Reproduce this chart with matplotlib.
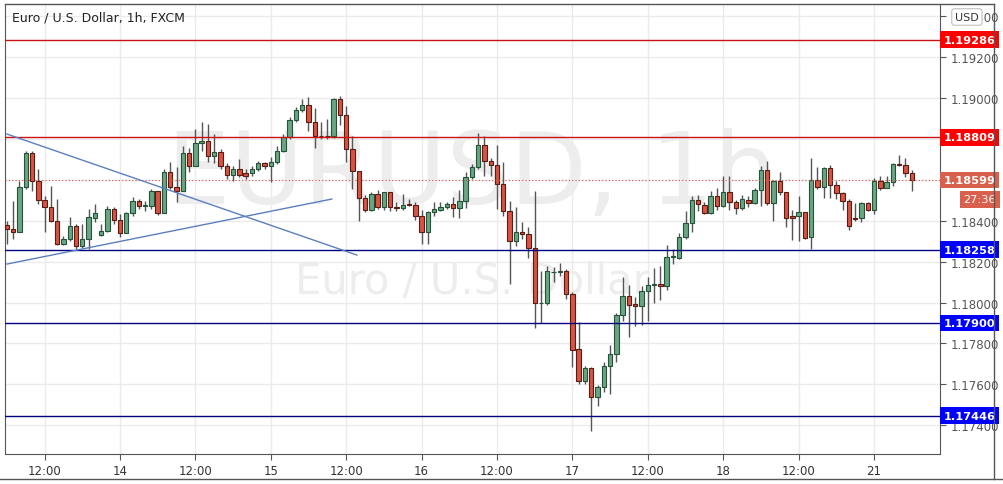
import matplotlib
matplotlib.use("Agg")
import matplotlib.pyplot as plt
from matplotlib.patches import Rectangle

opens = [1.18379,1.18359,1.18343,1.18563,1.18731,1.18593,1.18503,1.18465,1.18400,1.18286,
1.18311,1.18376,1.18278,1.18311,1.18415,1.18332,1.18348,1.18457,1.18405,1.18340,
1.18436,1.18495,1.18474,1.18474,1.18544,1.18436,1.18636,1.18563,1.18547,1.18731,
1.18666,1.18778,1.18788,1.18715,1.18734,1.18666,1.18623,1.18653,1.18633,1.18633,
1.18653,1.18682,1.18669,1.18689,1.18742,1.18808,1.18892,1.18941,1.18967,1.18881,
1.18816,1.18816,1.18813,1.18995,1.18917,1.18751,1.18641,1.18509,1.18454,1.18531,
1.18465,1.18539,1.18467,1.18460,1.18482,1.18477,1.18421,1.18343,1.18441,1.18454,
1.18465,1.18482,1.18460,1.18498,1.18612,1.18661,1.18770,1.18690,1.18674,1.18579,
1.18449,1.18302,1.18343,1.18333,1.18269,1.17996,1.17996,1.18149,1.18147,1.18155,
1.18044,1.17772,1.17617,1.17678,1.17536,1.17585,1.17691,1.17746,1.17938,1.18033,
1.17992,1.17981,1.18054,1.18087,1.18090,1.18079,1.18224,1.18220,1.18318,1.18387,
1.18502,1.18479,1.18438,1.18523,1.18471,1.18539,1.18490,1.18463,1.18503,1.18485,
1.18552,1.18650,1.18485,1.18593,1.18539,1.18422,1.18422,1.18441,1.18319,1.18601,
1.18564,1.18657,1.18577,1.18534,1.18498,1.18412,1.18412,1.18485,1.18454,1.18593,
1.18562,1.18588,1.18676,1.18671,1.18632]
closes = [1.18359,1.18343,1.18563,1.18731,1.18593,1.18503,1.18465,1.18400,1.18286,1.18311,
1.18376,1.18278,1.18311,1.18416,1.18436,1.18348,1.18457,1.18405,1.18340,1.18436,
1.18495,1.18470,1.18477,1.18544,1.18436,1.18636,1.18563,1.18547,1.18731,1.18666,
1.18778,1.18788,1.18715,1.18734,1.18666,1.18623,1.18653,1.18623,1.18620,1.18653,
1.18682,1.18669,1.18689,1.18742,1.18808,1.18892,1.18941,1.18967,1.18881,1.18813,
1.18813,1.18813,1.18995,1.18917,1.18751,1.18641,1.18509,1.18454,1.18531,1.18465,
1.18539,1.18465,1.18460,1.18477,1.18477,1.18421,1.18343,1.18441,1.18457,1.18467,
1.18482,1.18460,1.18498,1.18612,1.18661,1.18770,1.18690,1.18674,1.18579,1.18449,
1.18302,1.18343,1.18333,1.18269,1.17996,1.17996,1.18152,1.18149,1.18155,1.18044,
1.17769,1.17617,1.17678,1.17536,1.17588,1.17691,1.17746,1.17938,1.18033,1.17989,
1.17981,1.18054,1.18085,1.18087,1.18079,1.18224,1.18224,1.18318,1.18387,1.18502,
1.18481,1.18438,1.18523,1.18471,1.18539,1.18490,1.18463,1.18507,1.18485,1.18552,
1.18650,1.18485,1.18593,1.18539,1.18412,1.18412,1.18441,1.18316,1.18601,1.18564,
1.18657,1.18577,1.18534,1.18498,1.18373,1.18406,1.18485,1.18454,1.18593,1.18562,
1.18588,1.18676,1.18671,1.18632,1.18599]
highs = [1.18400,1.18498,1.18596,1.18742,1.18742,1.18653,1.18522,1.18571,1.18506,1.18327,
1.18416,1.18384,1.18384,1.18457,1.18482,1.18384,1.18474,1.18465,1.18433,1.18441,
1.18514,1.18506,1.18498,1.18555,1.18547,1.18653,1.18685,1.18661,1.18767,1.18754,
1.18848,1.18881,1.18873,1.18824,1.18751,1.18682,1.18666,1.18702,1.18653,1.18669,
1.18694,1.18689,1.18710,1.18767,1.18824,1.18905,1.18954,1.18995,1.19003,1.18949,
1.18881,1.18897,1.18998,1.19011,1.18962,1.18816,1.18645,1.18526,1.18539,1.18550,
1.18542,1.18542,1.18490,1.18531,1.18506,1.18490,1.18454,1.18449,1.18490,1.18490,
1.18490,1.18517,1.18550,1.18636,1.18677,1.18828,1.18812,1.18709,1.18770,1.18685,
1.18498,1.18465,1.18392,1.18367,1.18546,1.18155,1.18180,1.18176,1.18191,1.18163,
1.18049,1.17906,1.17691,1.17683,1.17596,1.17707,1.17792,1.17951,1.18126,1.18085,
1.18025,1.18082,1.18123,1.18167,1.18180,1.18281,1.18261,1.18339,1.18449,1.18522,
1.18525,1.18490,1.18547,1.18559,1.18617,1.18617,1.18503,1.18526,1.18523,1.18559,
1.18670,1.18694,1.18601,1.18637,1.18542,1.18454,1.18520,1.18445,1.18707,1.18661,
1.18661,1.18673,1.18596,1.18539,1.18507,1.18485,1.18490,1.18494,1.18609,1.18617,
1.18621,1.18683,1.18723,1.18705,1.18650]
lows = [1.18286,1.18311,1.18343,1.18555,1.18547,1.18482,1.18343,1.18395,1.18281,1.18281,
1.18302,1.18262,1.18265,1.18262,1.18392,1.18327,1.18343,1.18384,1.18319,1.18340,
1.18425,1.18457,1.18449,1.18457,1.18428,1.18436,1.18555,1.18493,1.18547,1.18636,
1.18666,1.18742,1.18685,1.18682,1.18653,1.18604,1.18596,1.18612,1.18604,1.18617,
1.18645,1.18653,1.18588,1.18677,1.18734,1.18799,1.18881,1.18933,1.18840,1.18754,
1.18799,1.18799,1.18803,1.18868,1.18685,1.18555,1.18397,1.18444,1.18449,1.18457,
1.18454,1.18449,1.18449,1.18454,1.18470,1.18405,1.18286,1.18286,1.18425,1.18449,
1.18457,1.18416,1.18412,1.18464,1.18604,1.18652,1.18620,1.18620,1.18457,1.18424,
1.18090,1.18277,1.18310,1.18216,1.17875,1.17899,1.17989,1.18098,1.18131,1.18017,
1.17686,1.17601,1.17599,1.17373,1.17495,1.17560,1.17552,1.17707,1.17911,1.17829,
1.17886,1.17891,1.17911,1.18000,1.18012,1.18062,1.18188,1.18212,1.18310,1.18343,
1.18449,1.18432,1.18433,1.18450,1.18466,1.18454,1.18433,1.18454,1.18466,1.18481,
1.18474,1.18477,1.18401,1.18526,1.18368,1.18308,1.18303,1.18311,1.18262,1.18556,
1.18510,1.18511,1.18507,1.18454,1.18357,1.18401,1.18396,1.18448,1.18433,1.18552,
1.18559,1.18572,1.18666,1.18613,1.18547]

tick_pos = [6, 18, 30, 42, 54, 66, 78, 90, 102, 114, 126, 138]
tick_labels = ["12:00", "14", "12:00", "15", "12:00", "16", "12:00", "17", "12:00", "18", "12:00", "21"]
y_ticks = [1.174, 1.176, 1.178, 1.180, 1.182, 1.184, 1.186, 1.188, 1.190, 1.192, 1.194]
red_levels = [1.19286, 1.18809]
blue_levels = [1.18258, 1.17900, 1.17446]
last_price = 1.18599
countdown = "27:36"
line1 = ([0, 55.7], [1.18824, 1.18232])
line2 = ([0, 51.7], [1.18188, 1.18506])

W, H = 1004, 485
fig = plt.figure(figsize=(W/100, H/100), dpi=100)
ax = fig.add_axes([5/W, 30/H, 935/W, 450/H])
ymin, ymax = 1.17259, 1.19460
ax.set_xlim(-0.3, 148.5)
ax.set_ylim(ymin, ymax)

for t in tick_pos:
    ax.axvline(t, color="#ebebeb", lw=1, zorder=0)
for t in y_ticks:
    ax.axhline(t, color="#ebebeb", lw=1, zorder=0)

ax.text(0.5, 0.62, "EURUSD, 1h", transform=ax.transAxes, fontsize=72, color="#ededed",
        ha="center", va="center", zorder=0.5, family="DejaVu Sans")
ax.text(0.5, 0.385, "Euro / U.S. Dollar", transform=ax.transAxes, fontsize=30, color="#ededed",
        ha="center", va="center", zorder=0.5, family="DejaVu Sans")

up_fill, dn_fill = "#6ba583", "#d75442"
up_edge, dn_edge = "#225437", "#5b1a13"
bw = 0.7
for i, (o, c, h, l) in enumerate(zip(opens, closes, highs, lows)):
    up = c >= o
    ax.vlines(i, l, h, color="#555555", lw=1, zorder=2)
    bottom = min(o, c)
    height = max(abs(c - o), 0.00002)
    ax.add_patch(Rectangle((i - bw/2, bottom), bw, height,
                           facecolor=up_fill if up else dn_fill,
                           edgecolor=up_edge if up else dn_edge, lw=0.8, zorder=3))

for lv in red_levels:
    ax.axhline(lv, color="#cc1111", lw=1, zorder=4)
for lv in blue_levels:
    ax.axhline(lv, color="#000080", lw=1, zorder=4)
ax.axhline(last_price, color="#d75442", lw=0.8, ls=(0, (1, 2)), zorder=4)

ax.plot(line1[0], line1[1], color="#5b7fc0", lw=1, zorder=5)
ax.plot(line2[0], line2[1], color="#5b7fc0", lw=1, zorder=5)

ax.set_xticks(tick_pos)
ax.set_xticklabels(tick_labels)
ax.yaxis.tick_right()
ax.set_yticks(y_ticks)
ax.set_yticklabels([f"{v:.5f}" for v in y_ticks])
ax.tick_params(axis="both", colors="#555555", labelsize=8.5, length=4)
ax.tick_params(axis="x", labelcolor="#333333")
ax.spines["top"].set_visible(False)
for s in ["left", "right", "bottom"]:
    ax.spines[s].set_color("#555555")

def label(y, text, bg, dy=0):
    ax.annotate(text, xy=(1, y), xycoords=("axes fraction", "data"),
                xytext=(2.5, dy), textcoords="offset points", ha="left", va="center",
                fontsize=8.2, fontweight="bold", color="white", zorder=10,
                bbox=dict(boxstyle="square,pad=0.3", fc=bg, ec="none"), annotation_clip=False)

for lv in red_levels:
    label(lv, f"{lv:.5f}", "#ff0000")
for lv in blue_levels:
    label(lv, f"{lv:.5f}", "#0000ff")
label(last_price, f"{last_price:.5f}", "#d9604d")
ax.annotate(countdown, xy=(1, last_price), xycoords=("axes fraction", "data"),
            xytext=(17, -14), textcoords="offset points", ha="left", va="center",
            fontsize=8.2, color="white", zorder=10,
            bbox=dict(boxstyle="square,pad=0.3", fc="#d9604d", ec="none"), annotation_clip=False)

fig.text(955/W, 1 - 18/H, "USD", fontsize=8, color="#333333", ha="left", va="center", zorder=20,
         bbox=dict(boxstyle="round,pad=0.3", fc="white", ec="#cccccc"))
fig.text(12/W, 1 - 18/H, "Euro / U.S. Dollar, 1h, FXCM", fontsize=9, color="#222222",
         ha="left", va="center")
fig.add_artist(plt.Line2D([0, 1], [5/H, 5/H], color="#555555", lw=1))
fig.add_artist(plt.Line2D([994/W, 994/W], [5/H, 1 - 5/H], color="#555555", lw=1, zorder=30))
fig.add_artist(plt.Line2D([5/W, 994/W], [1 - 5/H, 1 - 5/H], color="#555555", lw=1))

fig.savefig("out.png", dpi=100)
